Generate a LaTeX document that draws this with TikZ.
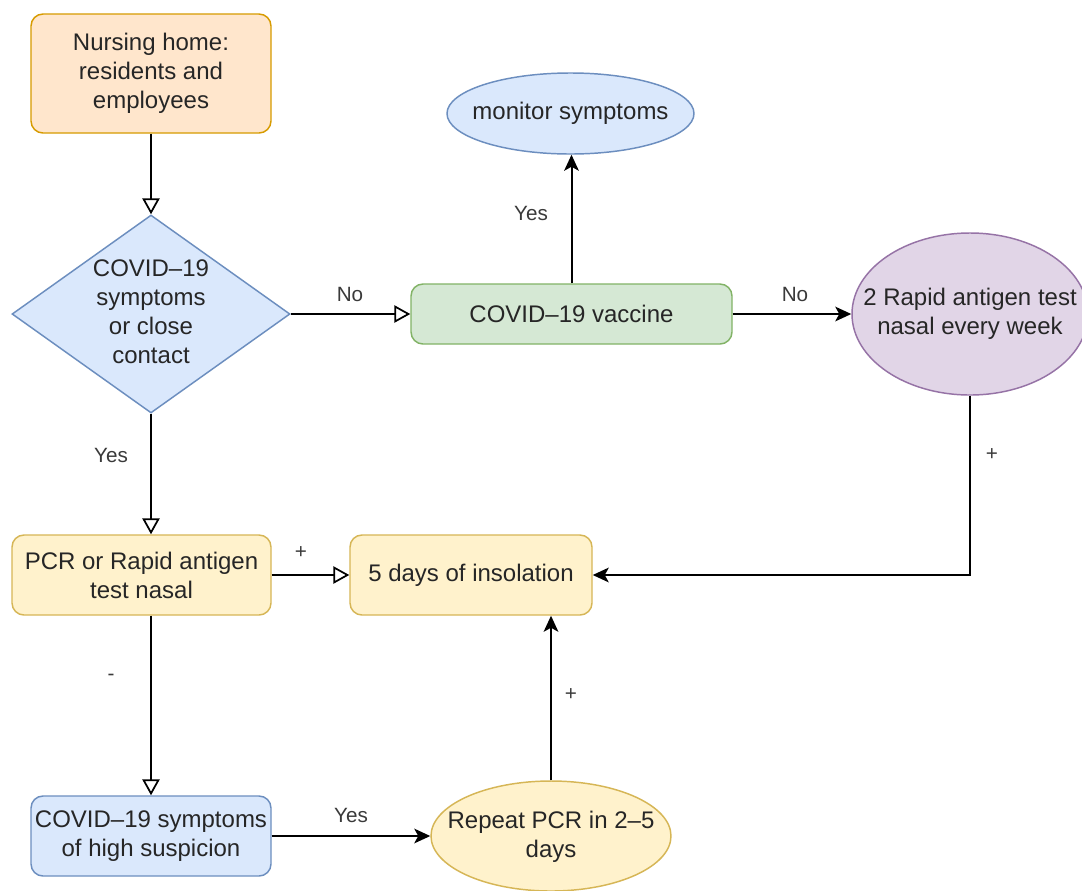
\documentclass[tikz,border=0pt]{standalone}
\usepackage{fontspec}
\setmainfont{Liberation Sans}
\usetikzlibrary{shapes.geometric,arrows.meta}
\definecolor{orF}{HTML}{FFE6CC}\definecolor{orS}{HTML}{D79B00}
\definecolor{blF}{HTML}{DAE8FC}\definecolor{blS}{HTML}{6C8EBF}
\definecolor{grF}{HTML}{D5E8D4}\definecolor{grS}{HTML}{82B366}
\definecolor{puF}{HTML}{E1D5E7}\definecolor{puS}{HTML}{9673A6}
\definecolor{yeF}{HTML}{FFF2CC}\definecolor{yeS}{HTML}{D6B656}
\definecolor{txt}{HTML}{262626}
\definecolor{labtxt}{HTML}{3A3A3A}
\tikzset{
  base/.style={inner sep=0pt, align=center, font=\fontsize{18pt}{21.75pt}\selectfont, text=txt, line width=1.1pt},
  box/.style={base, rectangle, rounded corners=9pt},
  oval/.style={base, ellipse},
  dia/.style={base, diamond},
  lab/.style={font=\fontsize{15.5pt}{18pt}\selectfont, text=labtxt, inner sep=0pt},
  openarr/.style={line width=1.5pt, -{Triangle[open, length=12pt, width=13pt, line width=1.3pt]}},
  fillarr/.style={line width=1.5pt, -{Stealth[length=12pt, width=11pt, inset=3pt]}},
}
\begin{document}
\begin{tikzpicture}[x=0.75pt,y=-0.75pt]
\clip (0,0) rectangle (1082,890);
\fill[white] (0,0) rectangle (1082,890);
% nodes
\node[box, fill=orF, draw=orS, minimum width=180pt, minimum height=89.25pt] (nurse) at (151,73.5) {Nursing home:\\residents and\\employees};
\node[dia, fill=blF, draw=blS, minimum width=208.5pt, minimum height=148.5pt] (q) at (151,314) {};
\node[base] at (151,312) {COVID–19\\symptoms\\or close\\contact};
\node[box, fill=grF, draw=grS, minimum width=240.75pt, minimum height=45pt] (vac) at (571.5,314) {COVID–19 vaccine};
\node[oval, fill=blF, draw=blS, minimum width=185.25pt, minimum height=60.75pt] (mon) at (570.5,113.5) {};
\node[base] at (570.5,113) {monitor symptoms};
\node[oval, fill=puF, draw=puS, minimum width=177pt, minimum height=121.5pt] (rat) at (970,314) {};
\node[base] at (970,314) {2 Rapid antigen test\\nasal every week};
\node[box, fill=yeF, draw=yeS, minimum width=194.25pt, minimum height=60pt] (pcr) at (141.5,575) {PCR or Rapid antigen\\test nasal};
\node[box, fill=yeF, draw=yeS, minimum width=181.5pt, minimum height=60pt] (ins) at (471,575) {5 days of insolation};
\node[box, fill=blF, draw=blS, minimum width=180pt, minimum height=60pt] (high) at (151,836) {COVID–19 symptoms\\of high suspicion};
\node[oval, fill=yeF, draw=yeS, minimum width=180pt, minimum height=82.5pt] (rep) at (551,836) {};
\node[base] at (551,837) {Repeat PCR in 2–5\\days};
% connectors
\draw[openarr] (nurse.south) -- (q.north);
\draw[openarr] (q.east) -- (vac.west);
\draw[openarr] (q.south) -- (q.south |- pcr.north);
\draw[fillarr] (vac.north) -- (vac.north |- mon.south);
\draw[fillarr] (vac.east) -- (rat.west);
\draw[fillarr] (rat.south) -- (rat.south |- ins.east) -- (ins.east);
\draw[openarr] (pcr.east) -- (ins.west);
\draw[openarr] (q.south |- pcr.south) -- (q.south |- high.north);
\draw[fillarr] (high.east) -- (rep.west);
\draw[fillarr] (rep.north) -- (rep.north |- ins.south);
% labels
\node[lab] (l1) at (350,294) {No};
\node[lab] (l2) at (111,455) {Yes};
\node[lab] (l3) at (531,213) {Yes};
\node[lab] (l4) at (795,294) {No};
\node[lab] (l5) at (992,455) {+};
\node[lab] (l6) at (301,553) {+};
\node[lab] (l7) at (111,677) {-};
\node[lab] (l8) at (351,815) {Yes};
\node[lab] (l9) at (571,695) {+};
\end{tikzpicture}
\end{document}
